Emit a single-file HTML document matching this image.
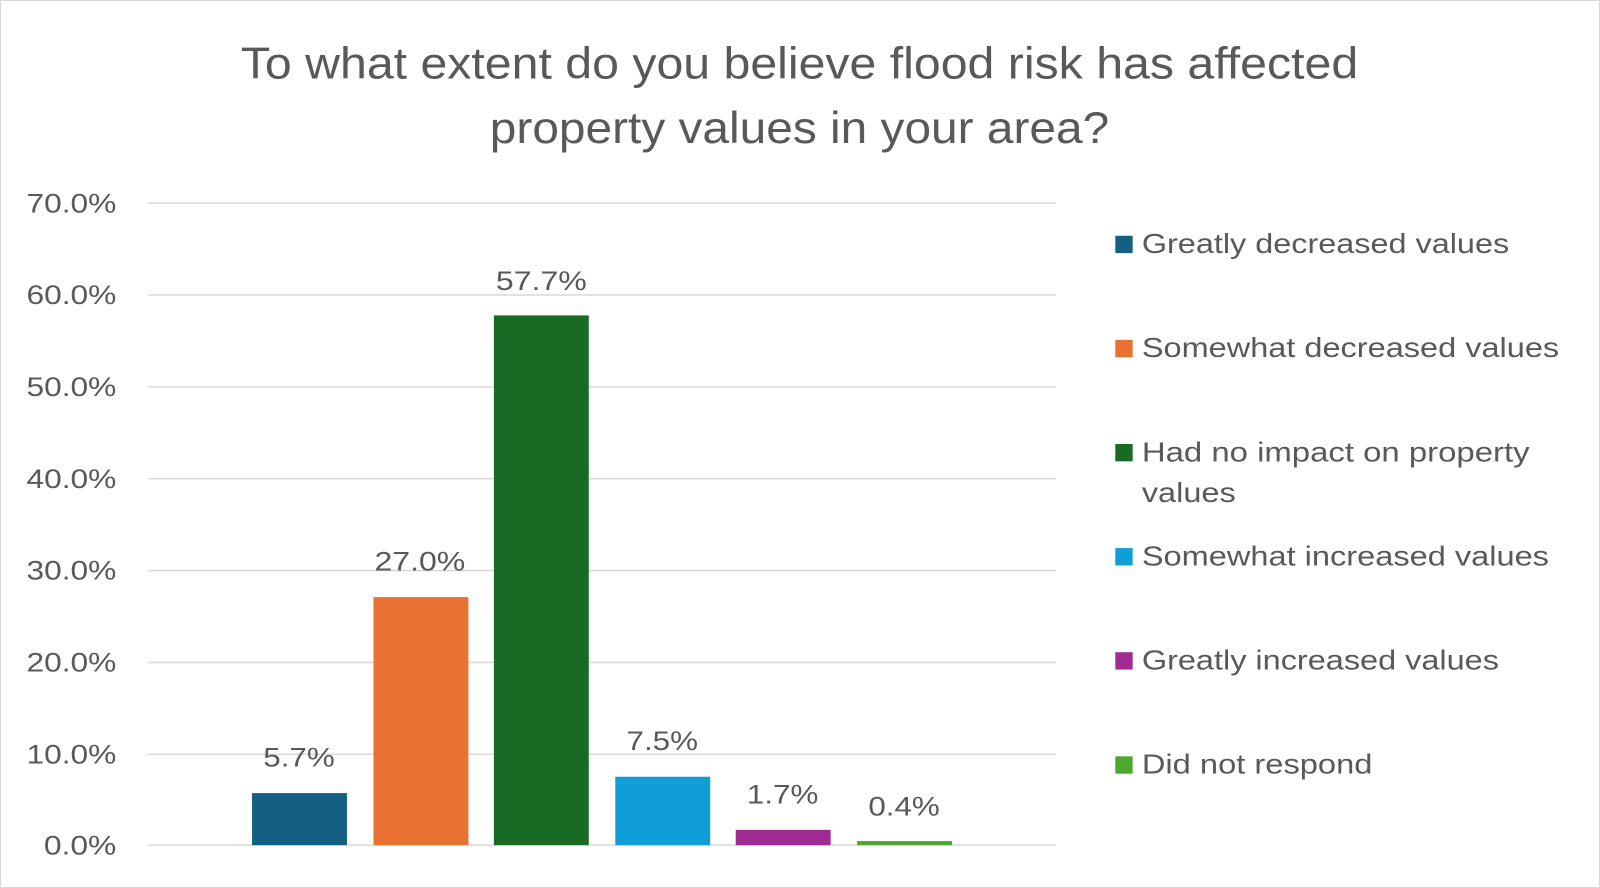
<!DOCTYPE html>
<html><head><meta charset="utf-8"><style>
html,body{margin:0;padding:0;background:#fff;}
svg{display:block;}
text{font-family:"Liberation Sans",sans-serif;fill:#595959;}
</style></head><body>
<svg width="1600" height="888" viewBox="0 0 1568 870" preserveAspectRatio="none" xmlns="http://www.w3.org/2000/svg">
<rect x="0.5" y="0.5" width="1567" height="869" fill="#fff" stroke="#d9d9d9" stroke-width="1"/>
<text x="236" y="77" font-size="44" textLength="1095" lengthAdjust="spacingAndGlyphs">To what extent do you believe flood risk has affected</text>
<text x="480" y="140" font-size="44" textLength="607" lengthAdjust="spacingAndGlyphs">property values in your area?</text>
<g stroke="#d9d9d9" stroke-width="1.5">
<line x1="145" x2="1035" y1="199" y2="199"/>
<line x1="145" x2="1035" y1="289" y2="289"/>
<line x1="145" x2="1035" y1="379" y2="379"/>
<line x1="145" x2="1035" y1="469" y2="469"/>
<line x1="145" x2="1035" y1="559" y2="559"/>
<line x1="145" x2="1035" y1="649" y2="649"/>
<line x1="145" x2="1035" y1="739" y2="739"/>
<line x1="145" x2="1035" y1="828" y2="828"/>
</g>
<g font-size="26" lengthAdjust="spacingAndGlyphs">
<text x="26" y="208" textLength="88" lengthAdjust="spacingAndGlyphs">70.0%</text>
<text x="26" y="298" textLength="88" lengthAdjust="spacingAndGlyphs">60.0%</text>
<text x="26" y="388" textLength="88" lengthAdjust="spacingAndGlyphs">50.0%</text>
<text x="26" y="478" textLength="88" lengthAdjust="spacingAndGlyphs">40.0%</text>
<text x="26" y="568" textLength="88" lengthAdjust="spacingAndGlyphs">30.0%</text>
<text x="26" y="658" textLength="88" lengthAdjust="spacingAndGlyphs">20.0%</text>
<text x="26" y="748" textLength="88" lengthAdjust="spacingAndGlyphs">10.0%</text>
<text x="43" y="837" textLength="71" lengthAdjust="spacingAndGlyphs">0.0%</text>
</g>
<rect x="247" y="777" width="93" height="51" fill="#156082"/>
<rect x="366" y="585" width="93" height="243" fill="#e97132"/>
<rect x="484" y="309" width="93" height="519" fill="#196b24"/>
<rect x="603" y="761" width="93" height="67" fill="#0f9ed5"/>
<rect x="721" y="813" width="93" height="15" fill="#a02b93"/>
<rect x="840" y="824" width="93" height="4" fill="#4ea72e"/>
<g font-size="26">
<text x="258" y="751" textLength="70" lengthAdjust="spacingAndGlyphs">5.7%</text>
<text x="367" y="559" textLength="89" lengthAdjust="spacingAndGlyphs">27.0%</text>
<text x="486" y="284" textLength="89" lengthAdjust="spacingAndGlyphs">57.7%</text>
<text x="614" y="735" textLength="70" lengthAdjust="spacingAndGlyphs">7.5%</text>
<text x="732" y="787" textLength="70" lengthAdjust="spacingAndGlyphs">1.7%</text>
<text x="851" y="799" textLength="70" lengthAdjust="spacingAndGlyphs">0.4%</text>
</g>
<g font-size="27">
<rect x="1093" y="231" width="17" height="17" fill="#156082"/>
<text x="1119" y="248" textLength="360" lengthAdjust="spacingAndGlyphs">Greatly decreased values</text>
<rect x="1093" y="333" width="17" height="17" fill="#e97132"/>
<text x="1119" y="350" textLength="409" lengthAdjust="spacingAndGlyphs">Somewhat decreased values</text>
<rect x="1093" y="435" width="17" height="17" fill="#196b24"/>
<text x="1119" y="452" textLength="380" lengthAdjust="spacingAndGlyphs">Had no impact on property</text>
<text x="1119" y="492" textLength="92" lengthAdjust="spacingAndGlyphs">values</text>
<rect x="1093" y="537" width="17" height="17" fill="#0f9ed5"/>
<text x="1119" y="554" textLength="399" lengthAdjust="spacingAndGlyphs">Somewhat increased values</text>
<rect x="1093" y="639" width="17" height="17" fill="#a02b93"/>
<text x="1119" y="656" textLength="350" lengthAdjust="spacingAndGlyphs">Greatly increased values</text>
<rect x="1093" y="741" width="17" height="17" fill="#4ea72e"/>
<text x="1119" y="758" textLength="226" lengthAdjust="spacingAndGlyphs">Did not respond</text>
</g>
</svg>
</body></html>
